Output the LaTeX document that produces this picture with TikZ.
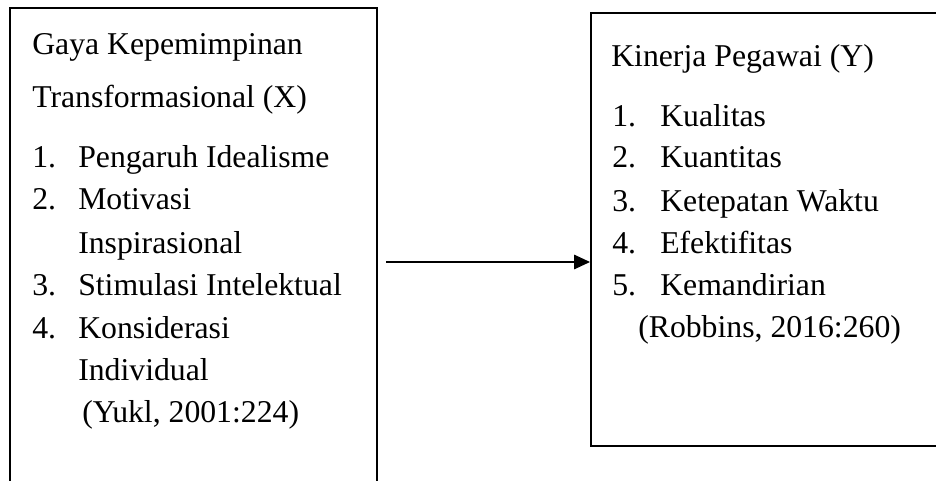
\documentclass[tikz,border=0pt]{standalone}
\usepackage{fontspec}
\setmainfont{Liberation Serif}
\usetikzlibrary{arrows.meta}
\begin{document}
\begin{tikzpicture}[x=0.75pt,y=-0.75pt,
  boxnode/.style={draw=black,line width=1.6pt,inner sep=0pt,anchor=north west,fill=none},
  txt/.style={inner sep=0pt,anchor=base west,font=\fontsize{23.8pt}{28pt}\selectfont},
  conn/.style={line width=0.8pt,-{Triangle[length=12pt,width=11pt]}}]
\useasboundingbox (0,0) rectangle (936,481);
\clip (0,0) rectangle (936,481);
% boxes
\node[boxnode,minimum width=275.25pt,minimum height=392.25pt] (lbox) at (9,7) {};
\node[boxnode,minimum width=277.5pt,minimum height=324.75pt] (rbox) at (590,12) {};
% left box text
\node[txt] (l0) at (32,55) {Gaya Kepemimpinan};
\node[txt] (l1) at (32,108) {Transformasional (X)};
\node[txt] (n1) at (32,168) {1.};
\node[txt] (t1) at (78,168) {Pengaruh Idealisme};
\node[txt] (n2) at (32,210) {2.};
\node[txt] (t2) at (78,210) {Motivasi};
\node[txt] (t2b) at (78,253) {Inspirasional};
\node[txt] (n3) at (32,296) {3.};
\node[txt] (t3) at (78,296) {Stimulasi Intelektual};
\node[txt] (n4) at (32,338) {4.};
\node[txt] (t4) at (78,338) {Konsiderasi};
\node[txt] (t4b) at (78,380) {Individual};
\node[txt] (ly) at (82,422) {(Yukl, 2001:224)};
% right box text
\node[txt] (r0) at (611,67) {Kinerja Pegawai (Y)};
\node[txt] (m1) at (612,127) {1.};
\node[txt] (s1) at (660,127) {Kualitas};
\node[txt] (m2) at (612,168) {2.};
\node[txt] (s2) at (660,168) {Kuantitas};
\node[txt] (m3) at (612,212) {3.};
\node[txt] (s3) at (660,212) {Ketepatan Waktu};
\node[txt] (m4) at (612,253) {4.};
\node[txt] (s4) at (660,253) {Efektifitas};
\node[txt] (m5) at (612,296) {5.};
\node[txt] (s5) at (660,296) {Kemandirian};
\node[txt] (rr) at (638,337) {(Robbins, 2016:260)};
% arrow
\coordinate (a0) at (386,262);
\draw[conn] (a0) -- (a0 -| rbox.west);
\end{tikzpicture}
\end{document}
